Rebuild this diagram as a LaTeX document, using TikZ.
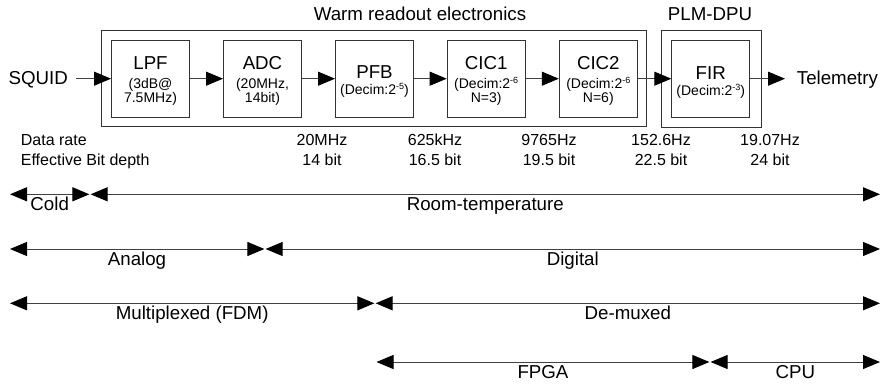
\documentclass[tikz,border=0pt]{standalone}
\usepackage{fontspec}
\setmainfont{Liberation Sans}
\usetikzlibrary{arrows.meta}
\newcommand\supx[1]{\raisebox{5pt}{\fontsize{9}{9}\selectfont #1}}
\begin{document}
\begin{tikzpicture}[x=1pt,y=-1pt,
  big/.style={font=\fontsize{18.7}{20}\selectfont, inner sep=0pt},
  small/.style={font=\fontsize{14}{16}\selectfont, inner sep=0pt},
  mid/.style={font=\fontsize{16}{18}\selectfont, inner sep=0pt},
  blk/.style={draw=black!80, line width=1pt, minimum width=78pt, minimum height=77pt, inner sep=0pt},
  frame/.style={draw=black!80, line width=1pt},
  tip/.tip={Triangle[length=17pt,width=14pt,color=black]},
  arr/.style={draw=black!75, line width=1pt, -tip},
  dbl/.style={draw=black!75, line width=1pt, tip-tip},
]
\useasboundingbox (0,0) rectangle (881,385);

% frames
\draw[frame] (101.7,30.5) rectangle (646.7,127);
\draw[frame] (661,30.5) rectangle (761,127.5);
\node[big, anchor=base] (warm) at (420,20.7) {Warm readout electronics};
\node[big, anchor=base] (plm) at (710,20.7) {PLM-DPU};

% blocks
\node[blk] (lpf)  at (150.5,78.7) {};
\node[blk] (adc)  at (262.5,78.7) {};
\node[blk] (pfb)  at (374.5,78.7) {};
\node[blk] (cic1) at (486.2,78.7) {};
\node[blk] (cic2) at (598.3,78.7) {};
\node[blk] (fir)  at (710.8,78.7) {};

% block texts
\node[big, anchor=base] (lpft) at (150.5,70) {LPF};
\node[small, anchor=base] (lpfa) at (150.5,88.3) {(3dB@};
\node[small, anchor=base] (lpfb) at (150.5,102.3) {7.5MHz)};
\node[big, anchor=base] (adct) at (262.5,70) {ADC};
\node[small, anchor=base] (adca) at (262.5,88.3) {(20MHz,};
\node[small, anchor=base] (adcb) at (262.5,102.3) {14bit)};
\node[big, anchor=base] (pfbt) at (374.5,79) {PFB};
\node[small, anchor=base] (pfba) at (374.5,94.3) {(Decim:2\supx{-5})};
\node[big, anchor=base] (c1t) at (486.2,70) {CIC1};
\node[small, anchor=base] (c1a) at (486.2,88.3) {(Decim:2\supx{-6}};
\node[small, anchor=base] (c1b) at (486.2,102.3) {N=3)};
\node[big, anchor=base] (c2t) at (598.3,70) {CIC2};
\node[small, anchor=base] (c2a) at (598.3,88.3) {(Decim:2\supx{-6}};
\node[small, anchor=base] (c2b) at (598.3,102.3) {N=6)};
\node[big, anchor=base] (firt) at (710.8,80) {FIR};
\node[small, anchor=base] (fira) at (710.8,96) {(Decim:2\supx{-3})};

% input / output
\node[big, anchor=base east] (squid) at (68,85) {SQUID};
\node[big, anchor=base west] (tel) at (796.7,85) {Telemetry};
\coordinate (sq) at (76,78.7);
\coordinate (tq) at (785,78.7);
\draw[arr] (sq) -- (lpf.west);
\draw[arr] (lpf) -- (adc);
\draw[arr] (adc) -- (pfb);
\draw[arr] (pfb) -- (cic1);
\draw[arr] (cic1) -- (cic2);
\draw[arr] (cic2) -- (fir);
\draw[arr] (fir.east) -- (tq);

% data table
\node[mid, anchor=base west] (dr) at (20.7,146) {Data rate};
\node[mid, anchor=base west] (eb) at (20.7,165) {Effective Bit depth};
\node[mid, anchor=base] (r1) at (322,146) {20MHz};
\node[mid, anchor=base] (b1) at (322,165) {14 bit};
\node[mid, anchor=base] (r2) at (435,146) {625kHz};
\node[mid, anchor=base] (b2) at (435,165) {16.5 bit};
\node[mid, anchor=base] (r3) at (549,146) {9765Hz};
\node[mid, anchor=base] (b3) at (549,165) {19.5 bit};
\node[mid, anchor=base] (r4) at (661,146) {152.6Hz};
\node[mid, anchor=base] (b4) at (661,165) {22.5 bit};
\node[mid, anchor=base] (r5) at (770,146) {19.07Hz};
\node[mid, anchor=base] (b5) at (770,165) {24 bit};

% range arrows
\coordinate (c0) at (10,194.3);
\coordinate (c1) at (89.4,194.3);
\coordinate (t0) at (90.6,194.3);
\coordinate (t1) at (880,194.3);
\draw[dbl] (c0) -- (c1);
\draw[dbl] (t0) -- (t1);
\node[big, anchor=base] (cold) at (49.7,210.8) {Cold};
\node[big, anchor=base] (room) at (485.3,210.8) {Room-temperature};

\coordinate (a0) at (10,249);
\coordinate (a1) at (264.4,249);
\coordinate (d0) at (265.6,249);
\coordinate (d1) at (880,249);
\draw[dbl] (a0) -- (a1);
\draw[dbl] (d0) -- (d1);
\node[big, anchor=base] (analog) at (137,265.5) {Analog};
\node[big, anchor=base] (digital) at (572.8,265.5) {Digital};

\coordinate (m0) at (10,303.3);
\coordinate (m1) at (374.4,303.3);
\coordinate (x0) at (375.6,303.3);
\coordinate (x1) at (880,303.3);
\draw[dbl] (m0) -- (m1);
\draw[dbl] (x0) -- (x1);
\node[big, anchor=base] (mux) at (192.2,319.8) {Multiplexed (FDM)};
\node[big, anchor=base] (demux) at (627.8,319.8) {De-muxed};

\coordinate (f0) at (376.5,362);
\coordinate (f1) at (709.4,362);
\coordinate (p0) at (710.6,362);
\coordinate (p1) at (880,362);
\draw[dbl] (f0) -- (f1);
\draw[dbl] (p0) -- (p1);
\node[big, anchor=base] (fpga) at (543,378.5) {FPGA};
\node[big, anchor=base] (cpu) at (795.3,378.5) {CPU};
\end{tikzpicture}
\end{document}
